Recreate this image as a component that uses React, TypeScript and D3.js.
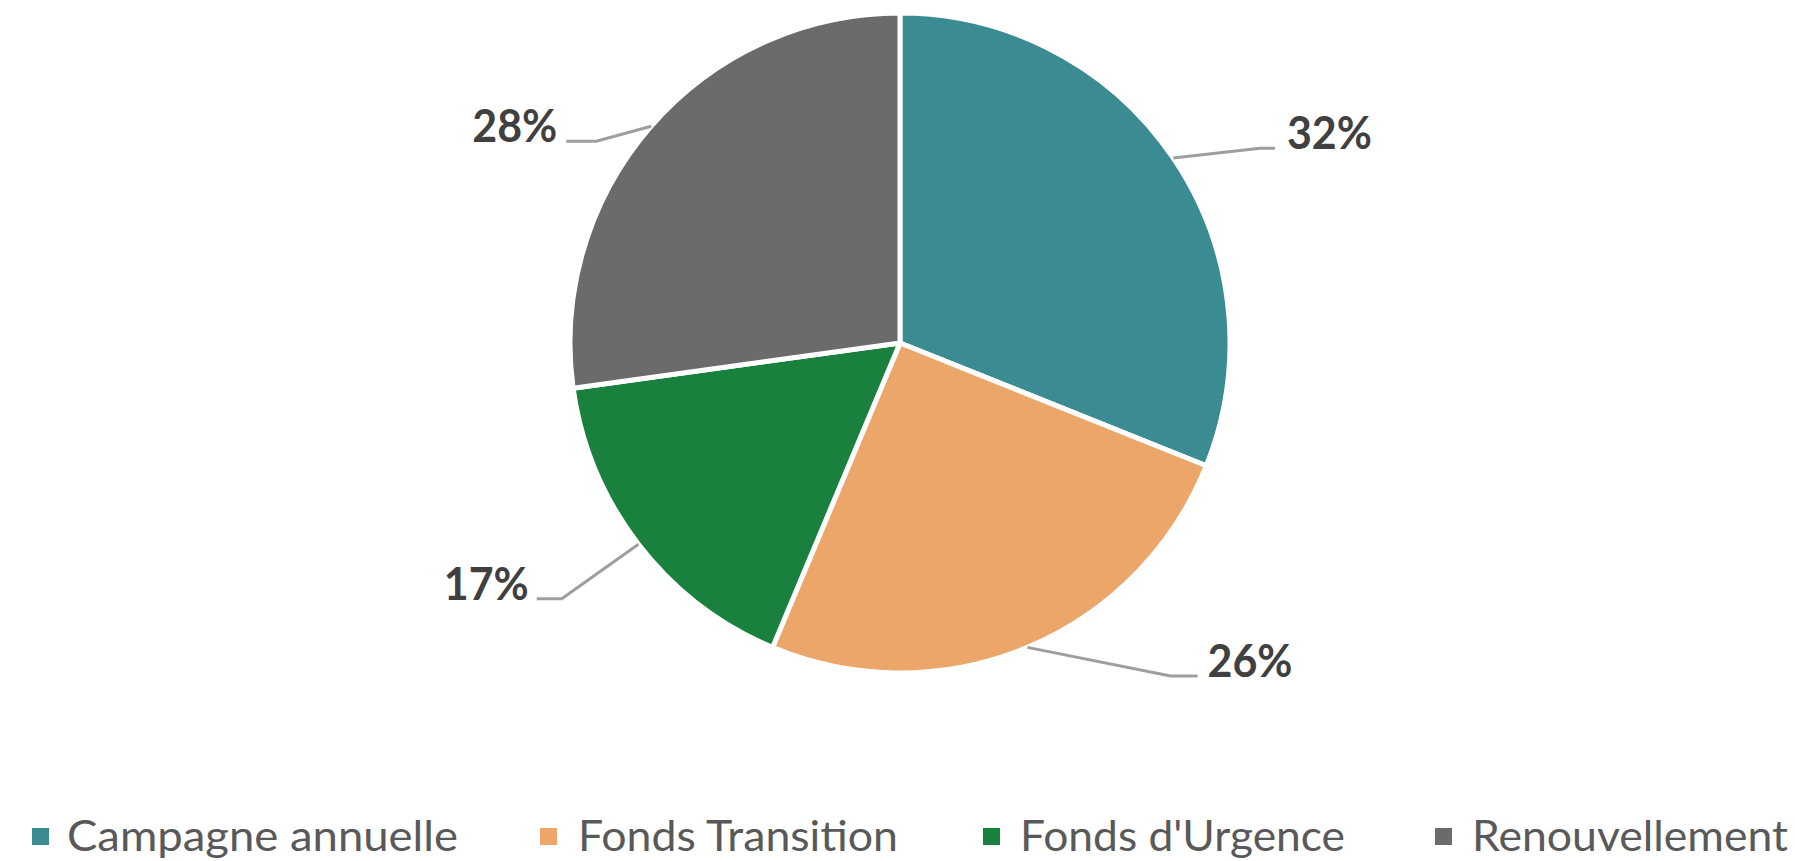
import React from "react";
import * as d3 from "d3";

// ---- data ----
const categories = ["Campagne annuelle", "Fonds Transition", "Fonds d'Urgence", "Renouvellement"];
const values = [32, 26, 17, 28];
const labels = ["32%", "26%", "17%", "28%"];
const colors = ["#3A8C92", "#ECA66A", "#1A803D", "#6B6B6B"];

// ---- layout (label elbow positions in polar terms, relative to the pie) ----
const labelAngleDeg = [61.6, 140.9, 232.9, 303.6];
const labelRadiusFactor = [1.24, 1.30, 1.285, 1.105];
const labelTail = [15, 27, 25, 30];
const labelGap = [12, 10, 8, 9];
const labelWidth = 85;

const W = 1795;
const H = 861;
const CX = 900;
const CY = 343;
const R = 330;

const legendMarkerX = [32, 540, 983, 1435];
const legendTextX = [67, 578, 1020, 1472];
const legendTextW = [391, 320, 325, 316];

export default function App() {
  const pie = d3.pie<number>().sort(null).value((d) => d);
  const arcs = pie(values);
  const arc = d3.arc<d3.PieArcDatum<number>>().innerRadius(0).outerRadius(R);

  return (
    <svg
      width={W}
      height={H}
      viewBox={`0 0 ${W} ${H}`}
      style={{ position: "absolute", left: 0, top: 0, background: "#fff" }}
    >
      <rect x={0} y={0} width={W} height={H} fill="#fff" />
      <g transform={`translate(${CX},${CY})`}>
        {arcs.map((a, i) => (
          <path key={i} d={arc(a) || ""} fill={colors[i]} stroke="#fff" strokeWidth={5} strokeLinejoin="round" />
        ))}
        {arcs.map((a, i) => {
          const mid = (a.startAngle + a.endAngle) / 2;
          const sx = Math.sin(mid) * R;
          const sy = -Math.cos(mid) * R;
          const la = (labelAngleDeg[i] * Math.PI) / 180;
          const er = R * labelRadiusFactor[i];
          const ex = Math.sin(la) * er;
          const ey = -Math.cos(la) * er;
          const right = ex > 0;
          const tx = ex + (right ? labelTail[i] : -labelTail[i]);
          const textX = tx + (right ? labelGap[i] : -labelGap[i]);
          return (
            <g key={"l" + i}>
              <polyline
                points={`${sx},${sy} ${ex},${ey} ${tx},${ey}`}
                fill="none"
                stroke="#9E9E9E"
                strokeWidth={3}
              />
              <text
                x={right ? textX : textX - labelWidth}
                y={ey + 1}
                textAnchor="start"
                textLength={labelWidth}
                lengthAdjust="spacingAndGlyphs"
                fontFamily="Lato, 'Open Sans', sans-serif"
                fontWeight={700}
                fontSize={45}
                fill="#404040"
              >
                {labels[i]}
              </text>
            </g>
          );
        })}
      </g>
      <g>
        {categories.map((c, i) => (
          <g key={"lg" + i}>
            <rect x={legendMarkerX[i]} y={828} width={17} height={17} fill={colors[i]} />
            <text
              x={legendTextX[i]}
              y={851}
              textLength={legendTextW[i]}
              lengthAdjust="spacingAndGlyphs"
              fontFamily="Lato, 'Open Sans', sans-serif"
              fontSize={43}
              fill="#595959"
            >
              {c}
            </text>
          </g>
        ))}
      </g>
    </svg>
  );
}
